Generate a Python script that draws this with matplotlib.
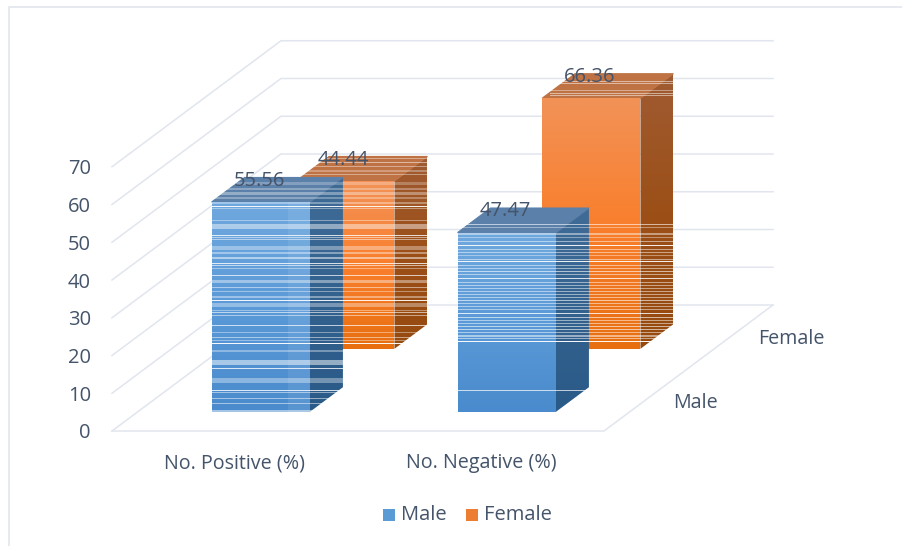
# Pseudo 3D clustered columns, drawn in an oblique projection
import numpy as np
import matplotlib
matplotlib.use('Agg')
import matplotlib.pyplot as plt
from matplotlib.patches import Polygon, Rectangle

plt.rcParams['font.family'] = ['Open Sans', 'DejaVu Sans']

categories = ['No. Positive (%)', 'No. Negative (%)']
series_names = ['Male', 'Female']
male = [55.56, 47.47]
female = [44.44, 66.36]
y_ticks = [0, 10, 20, 30, 40, 50, 60, 70]

# white scan bands seen in the picture: image row, thickness, opacity
bands_pos = [(158, 1, .4), (162, 1, .5), (166, 1, .4), (170, 2, .3), (174, 1, .4),
             (182, 3, .25), (188, 2, .3), (192, 3, .35), (197, 2, .3), (202, 2, .35), (206, 1, .9),
             (208, 1, .4), (220, 1, .4), (224, 5, .45), (235, 1, .8), (237, 1, .5), (239, 1, .5),
             (246, 4, .35), (252, 2, .4), (257, 2, .5), (263, 1, .8), (265, 1, .6), (268, 1, .4),
             (275, 1, .7), (280, 3, .4), (287, 1, .5), (291, 1, .4), (296, 2, .4), (300, 1, .9),
             (303, 4, .35), (310, 1, .4), (312, 1, .6), (315, 1, .5), (325, 1, .7), (332, 1, .4),
             (337, 1, .5), (340, 1, .4), (343, 1, .95), (350, 2, .35), (360, 5, .5), (368, 1, .8),
             (378, 5, .35), (390, 1, .8), (392, 1, .5), (398, 1, .5), (403, 1, .5), (410, 2, .5)]
bands_neg = [(224, 1, .6), (227, 1, .4), (233, 2, .45), (237, 1, .4), (241, 1, .5), (245, 1, .9),
             (249, 1, .5), (252, 1, .5), (255, 1, .4), (259, 1, .5), (261, 1, .9), (265, 1, .5),
             (268, 1, .5), (271, 1, .6), (274, 1, .5), (278, 1, .8), (282, 1, .5), (285, 1, .5),
             (288, 1, .5), (291, 1, .5), (294, 1, .5), (297, 1, .5), (300, 1, .6), (303, 1, .5),
             (306, 1, .5), (309, 1, .5), (313, 1, .8), (317, 1, .6), (320, 1, .5), (323, 1, .5),
             (326, 1, .6), (329, 1, .6), (332, 1, .5), (335, 2, .5), (338, 1, .5), (341, 1, .95)]
bands_neg_top = [(81, 1, .5), (83, 1, .5), (90, 1, .4), (93, 1, .5), (95, 1, .5)]

blue = dict(front=('#6fa8de', '#5b9ad8', '#4a8bcd'), side=('#3f6c97', '#34628f', '#2a5a88'), top='#5b80a9')
orange = dict(front=('#f29257', '#f97f2d', '#e86f10'), side=('#a05b32', '#9c5018', '#964a0e'), top='#bf7244')

grid_color = '#e1e5ee'
text_color = '#44546a'

# projection: category units along the floor, series units into the depth
X0, Y0 = 112, 431
CAT_W = 246
DEPTH_X, DEPTH_Y = 84.5, 63
V_SCALE = 3.775
BAR_W = 0.4
BAR_D = 0.39


def proj(x, d, v):
    return X0 + x * CAT_W + d * DEPTH_X, Y0 - d * DEPTH_Y - v * V_SCALE


def gradient_poly(ax, pts, stops, z):
    pts = np.array(pts)
    poly = Polygon(pts, closed=True, fc='none', ec='none', zorder=z)
    ax.add_patch(poly)
    rgb = np.array([matplotlib.colors.to_rgb(c) for c in stops])
    t = np.linspace(0, 1, 64)
    pos = np.linspace(0, 1, len(stops))
    img = np.stack([np.interp(t, pos, rgb[:, k]) for k in range(3)], axis=1)[:, None, :]
    im = ax.imshow(img, extent=(pts[:, 0].min(), pts[:, 0].max(), pts[:, 1].max(), pts[:, 1].min()),
                   aspect='auto', zorder=z, interpolation='bilinear')
    im.set_clip_path(poly)


def bar3d(ax, i, j, val, col, z):
    xa = i + (1 - BAR_W) / 2
    xb = xa + BAR_W
    da = j + (1 - BAR_D) / 2
    db = da + BAR_D
    gradient_poly(ax, [proj(xb, da, 0), proj(xb, db, 0), proj(xb, db, val), proj(xb, da, val)],
                  col['side'], z)
    ax.add_patch(Polygon([proj(xa, da, val), proj(xb, da, val), proj(xb, db, val), proj(xa, db, val)],
                         closed=True, fc=col['top'], ec=col['top'], lw=.8, zorder=z))
    gradient_poly(ax, [proj(xa, da, 0), proj(xb, da, 0), proj(xb, da, val), proj(xa, da, val)],
                  col['front'], z + .1)


fig = plt.figure(figsize=(9.02, 5.46), dpi=100)
ax = fig.add_axes([0, 0, 1, 1])
ax.axis('off')

# chart frame
ax.plot([9, 9, 902], [546, 7, 7], color=grid_color, lw=1.2, zorder=1)

# walls and floor
top = len(categories)
for v in y_ticks:
    a, b, c = proj(0, 0, v), proj(0, 2, v), proj(top, 2, v)
    ax.plot([a[0], b[0], c[0]], [a[1], b[1], c[1]], color=grid_color, lw=1.1, zorder=2)
    ax.text(a[0] - 21, a[1] + 2.5, str(v), ha='right', va='center', fontsize=14.5, color=text_color)
f1, f2, f3 = proj(0, 0, 0), proj(top, 0, 0), proj(top, 2, 0)
ax.plot([f1[0], f2[0], f3[0]], [f1[1], f2[1], f3[1]], color=grid_color, lw=1.1, zorder=2)

# back row first, then the front row
for i in range(len(categories)):
    bar3d(ax, i, 1, female[i], orange, 3 + 2 * i)
    bar3d(ax, i, 0, male[i], blue, 4 + 2 * i)

# lighter strip on the first column
ax.add_patch(Rectangle((288, 202), 22, 210, fc='white', ec='none', alpha=.08, zorder=8))

# white bands lying over the columns
for row, h, a in bands_pos:
    right = 428 if row < 348 else 343
    left = 300 if row < 178 else 211
    ax.add_patch(Rectangle((left, row), right - left, h, fc='white', ec='none', alpha=a, zorder=9))
for row, h, a in bands_neg:
    ax.add_patch(Rectangle((457, row), 217, h, fc='white', ec='none', alpha=a, zorder=9))
for row, h, a in bands_neg_top:
    ax.add_patch(Rectangle((550, row), 124, h, fc='white', ec='none', alpha=a, zorder=9))
ax.add_patch(Rectangle((457, 390), 132, 1, fc='white', ec='none', alpha=.7, zorder=9))

# data labels
for i in range(len(categories)):
    for j, vals in enumerate([male, female]):
        xm, ym = proj(i + .5, j + .5, vals[i])
        ax.text(xm - 18, ym - 9, '%.2f' % vals[i], ha='center', va='center', fontsize=14.5,
                color=text_color, zorder=12)

# axis labels
for i, name in enumerate(categories):
    px, _ = proj(i + .5, 0, 0)
    ax.text(px, 463, name, ha='center', va='center', fontsize=14.2, color=text_color)
for j, name in enumerate(series_names):
    px, py = proj(top, j + .5, 0)
    ax.text(px + 27, py + 3, name, ha='left', va='center', fontsize=14.2, color=text_color)

# legend
for px, name, col in [(383, series_names[0], '#5b9bd5'), (466, series_names[1], '#ed7d31')]:
    ax.add_patch(Rectangle((px, 509), 12, 12, fc=col, ec='none'))
    ax.text(px + 18, 515.5, name, ha='left', va='center', fontsize=14.5, color=text_color)

ax.set_xlim(0, 902)
ax.set_ylim(546, 0)
fig.savefig('out.png', dpi=100)
